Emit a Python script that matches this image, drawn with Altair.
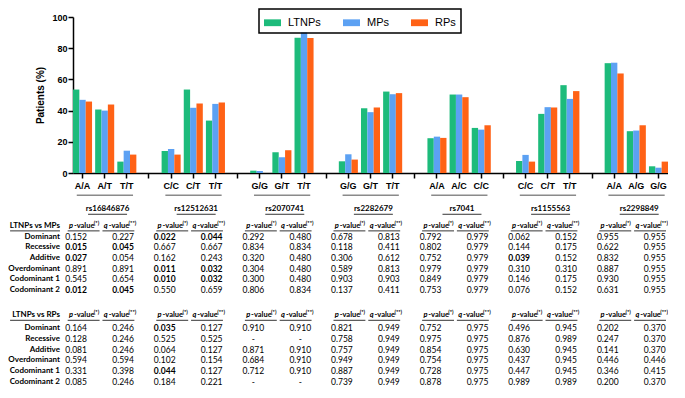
import altair as alt
import pandas as pd

# ---------------- data ----------------
SERIES = ["LTNPs", "MPs", "RPs"]
COLORS = ["#1DBB7B", "#5CA1F3", "#FF6216"]

SNPS = ["rs16846876", "rs12512631", "rs2070741", "rs2282679", "rs7041", "rs1155563", "rs2298849"]
GENOTYPES = [
    ["A/A", "A/T", "T/T"],
    ["C/C", "C/T", "T/T"],
    ["G/G", "G/T", "T/T"],
    ["G/G", "G/T", "T/T"],
    ["A/A", "A/C", "C/C"],
    ["C/C", "C/T", "T/T"],
    ["A/A", "A/G", "G/G"],
]
LTNPS = [53.5, 40.7, 7.3, 14.1, 53.5, 33.6, 1.5, 13.3, 86.7, 7.5, 41.5, 52.2,
         22.3, 50.3, 28.9, 7.7, 37.9, 56.3, 70.4, 26.8, 4.3]
MPS = [46.9, 40.0, 14.3, 15.4, 41.8, 44.3, 1.3, 10.1, 90.1, 12.0, 39.0, 50.5,
       23.3, 50.3, 27.8, 11.6, 42.2, 47.5, 70.7, 27.2, 3.4]
RPS = [45.8, 43.9, 11.8, 11.8, 44.5, 45.2, 0.0, 14.6, 86.5, 8.6, 42.0, 51.2,
       22.5, 48.6, 30.6, 7.3, 42.0, 52.5, 63.8, 30.6, 7.3]

MODELS = ["Dominant", "Recessive", "Additive", "Overdominant", "Codominant 1", "Codominant 2"]
COMPARISONS = ["LTNPs vs MPs", "LTNPs vs RPs"]

MP_P = [
    ["0.152", "0.015", "0.027", "0.891", "0.545", "0.012"],
    ["0.022", "0.667", "0.162", "0.011", "0.010", "0.550"],
    ["0.292", "0.834", "0.320", "0.304", "0.300", "0.806"],
    ["0.678", "0.118", "0.306", "0.589", "0.903", "0.137"],
    ["0.792", "0.802", "0.752", "0.979", "0.849", "0.753"],
    ["0.062", "0.144", "0.039", "0.310", "0.146", "0.076"],
    ["0.955", "0.622", "0.832", "0.887", "0.930", "0.631"],
]
MP_Q = [
    ["0.227", "0.045", "0.054", "0.891", "0.654", "0.045"],
    ["0.044", "0.667", "0.243", "0.032", "0.032", "0.659"],
    ["0.480", "0.834", "0.480", "0.480", "0.480", "0.834"],
    ["0.813", "0.411", "0.612", "0.813", "0.903", "0.411"],
    ["0.979", "0.979", "0.979", "0.979", "0.979", "0.979"],
    ["0.152", "0.175", "0.152", "0.310", "0.175", "0.152"],
    ["0.955", "0.955", "0.955", "0.955", "0.955", "0.955"],
]
RP_P = [
    ["0.164", "0.128", "0.081", "0.594", "0.331", "0.085"],
    ["0.035", "0.525", "0.064", "0.102", "0.044", "0.184"],
    ["0.910", "-", "0.871", "0.684", "0.712", "-"],
    ["0.821", "0.758", "0.757", "0.949", "0.887", "0.739"],
    ["0.752", "0.975", "0.854", "0.754", "0.728", "0.878"],
    ["0.496", "0.876", "0.630", "0.437", "0.447", "0.989"],
    ["0.202", "0.247", "0.141", "0.446", "0.346", "0.200"],
]
RP_Q = [
    ["0.246", "0.246", "0.246", "0.594", "0.398", "0.246"],
    ["0.127", "0.525", "0.127", "0.154", "0.127", "0.221"],
    ["0.910", "-", "0.910", "0.910", "0.910", "-"],
    ["0.949", "0.949", "0.949", "0.949", "0.949", "0.949"],
    ["0.975", "0.975", "0.975", "0.975", "0.975", "0.975"],
    ["0.945", "0.989", "0.945", "0.945", "0.945", "0.989"],
    ["0.370", "0.370", "0.370", "0.446", "0.415", "0.370"],
]
# (comparison, snp, model, column) of the values printed in bold
BOLD = [
    (0, 0, 1, "p"), (0, 0, 1, "q"), (0, 0, 2, "p"), (0, 0, 5, "p"), (0, 0, 5, "q"),
    (0, 1, 0, "p"), (0, 1, 0, "q"), (0, 1, 3, "p"), (0, 1, 3, "q"), (0, 1, 4, "p"), (0, 1, 4, "q"),
    (0, 5, 2, "p"),
    (1, 1, 0, "p"), (1, 1, 4, "p"),
]

# ---------------- layout constants ----------------
W = 595
H_BAR = 156
H_TAB = 196
NSLOT = 27
PAD_IN = 0.14
XMAX = NSLOT - PAD_IN
TXT_FONT = "Lato"
AX_FONT = "Liberation Sans"

# slot keys for the band scale (3 genotypes + a gap per SNP)
SLOTS = []
for g, gens in enumerate(GENOTYPES):
    SLOTS += [f"{g}_{x}" for x in gens]
    if g < len(GENOTYPES) - 1:
        SLOTS.append(f"{g}gap_")

rows = []
vals = {"LTNPs": LTNPS, "MPs": MPS, "RPs": RPS}
i = 0
for g, gens in enumerate(GENOTYPES):
    for gen in gens:
        for s in SERIES:
            rows.append({"slot": f"{g}_{gen}", "series": s, "value": vals[s][i]})
        i += 1
bars_df = pd.DataFrame(rows)

x_axis = alt.Axis(title=None, labelAngle=0, labelExpr="split(datum.value, '_')[1]",
                  labelFont=AX_FONT, labelFontWeight="bold", labelFontSize=9,
                  labelColor="black", labelPadding=3, labelOverlap=False,
                  domainColor="black", domainWidth=1.5, tickColor="black",
                  tickWidth=1.5, tickSize=5)
x_scale = alt.Scale(domain=SLOTS, paddingInner=PAD_IN, paddingOuter=0)

top = alt.Chart(bars_df).mark_bar().encode(
    x=alt.X("slot:N", scale=x_scale, sort=SLOTS, axis=x_axis),
    xOffset=alt.XOffset("series:N", scale=alt.Scale(domain=SERIES), sort=SERIES),
    y=alt.Y("value:Q", scale=alt.Scale(domain=[0, 100], nice=False),
            axis=alt.Axis(title="Patients (%)", values=[0, 20, 40, 60, 80, 100], grid=False,
                          labelFont=AX_FONT, labelFontWeight="bold", labelFontSize=9,
                          labelColor="black", labelPadding=1,
                          titleFont=AX_FONT, titleFontWeight="bold", titleFontSize=10,
                          titleColor="black", titlePadding=6,
                          domainColor="black", domainWidth=1.5, tickColor="black",
                          tickWidth=1.5, tickSize=5)),
    color=alt.Color("series:N", scale=alt.Scale(domain=SERIES, range=COLORS),
                    legend=alt.Legend(title=None, orient="none", direction="horizontal",
                                      legendX=186, legendY=-8,
                                      symbolType="M-1,-0.4H1V0.4H-1Z", symbolSize=289,
                                      symbolStrokeWidth=0, labelFont=AX_FONT,
                                      labelFontSize=11, labelColor="black", labelOffset=7,
                                      columnPadding=22, padding=5, strokeColor="black")),
).properties(width=W, height=H_BAR)

# ---------------- tables ----------------
P_X, Q_X = 0.14, 2.26
HP_A, HQ_A = 0.0, 1.57
SNP_X = 1.56
LAB_X = -0.59
ROW_TOP = -1.8
ROW_GRAY = -1.3
ROW_SNP = 0.0
ROW_HDR = [1.55, 9.9]
ROW_FIRST = [2.55, 11.1]

cells = []
tables = [(MP_P, MP_Q), (RP_P, RP_Q)]
for t, (P, Q) in enumerate(tables):
    for g in range(len(SNPS)):
        for m in range(len(MODELS)):
            for kind, src, off in (("p", P, P_X), ("q", Q, Q_X)):
                cells.append({"x": 4 * g + off, "y": ROW_FIRST[t] + m, "text": src[g][m],
                              "bold": (t, g, m, kind) in BOLD})
cells_df = pd.DataFrame(cells)

letters, words, sups, lines = [], [], [], []
for t in range(2):
    for g in range(len(SNPS)):
        for a, letter, sup in ((HP_A, "p", "(*)"), (HQ_A, "q", "(**)")):
            letters.append({"x": 4 * g + a, "y": ROW_HDR[t], "text": letter})
            words.append({"x": 4 * g + a + 0.04, "y": ROW_HDR[t], "text": "-value"})
            sups.append({"x": 4 * g + a + 0.94, "y": ROW_HDR[t], "text": sup})
            lines.append({"x": 4 * g + a - 0.24, "x2": 4 * g + a + 1.2, "y": ROW_HDR[t]})
    lines.append({"x": LAB_X - 2.25, "x2": LAB_X, "y": ROW_HDR[t]})
for g in range(len(SNPS)):
    lines.append({"x": 4 * g + SNP_X - 0.88, "x2": 4 * g + SNP_X + 0.88, "y": ROW_SNP})

gray_df = pd.DataFrame([{"x": 4 * g + 0.17, "x2": 4 * g + 2.71, "y": ROW_GRAY} for g in range(len(SNPS))])

labels = []
for t in range(2):
    labels.append({"x": LAB_X, "y": ROW_HDR[t], "text": COMPARISONS[t]})
    for m, name in enumerate(MODELS):
        labels.append({"x": LAB_X, "y": ROW_FIRST[t] + m, "text": name})
snp_df = pd.DataFrame([{"x": 4 * g + SNP_X, "y": ROW_SNP, "text": s} for g, s in enumerate(SNPS)])

XS = alt.Scale(domain=[0, XMAX], nice=False, zero=False)
YS = alt.Scale(domain=[ROW_TOP, 16.5], nice=False, zero=False, reverse=True)


def enc(ch):
    return ch.encode(x=alt.X("x:Q", scale=XS, axis=None), y=alt.Y("y:Q", scale=YS, axis=None),
                     text="text:N")


base_txt = dict(font=TXT_FONT, fontSize=8.5, color="black", baseline="middle")
hdr_txt = dict(font=TXT_FONT, fontSize=7.5, color="black", baseline="middle")
t_norm = enc(alt.Chart(cells_df).transform_filter("!datum.bold").mark_text(align="center", **base_txt))
t_bold = enc(alt.Chart(cells_df).transform_filter("datum.bold").mark_text(align="center", fontWeight="bold", **base_txt))
t_let = enc(alt.Chart(pd.DataFrame(letters)).mark_text(align="right", fontWeight="bold", fontStyle="italic", **hdr_txt))
t_word = enc(alt.Chart(pd.DataFrame(words)).mark_text(align="left", fontWeight="bold", **hdr_txt))
t_sup = enc(alt.Chart(pd.DataFrame(sups)).mark_text(align="left", fontWeight="bold", font=TXT_FONT,
                                                    fontSize=5.5, color="black", baseline="middle", dy=-3))
t_lab = enc(alt.Chart(pd.DataFrame(labels)).mark_text(align="right", fontWeight="bold", font=TXT_FONT,
                                                      fontSize=8, color="black", baseline="middle"))
t_snp = enc(alt.Chart(snp_df).mark_text(align="center", fontWeight="bold", font=TXT_FONT,
                                        fontSize=8, color="black", baseline="middle"))
t_lines = alt.Chart(pd.DataFrame(lines)).mark_rule(color="black", strokeWidth=0.8, yOffset=5).encode(
    x=alt.X("x:Q", scale=XS, axis=None), x2="x2:Q", y=alt.Y("y:Q", scale=YS, axis=None))
t_gray = alt.Chart(gray_df).mark_rule(color="#8a8a8a", strokeWidth=1.5).encode(
    x=alt.X("x:Q", scale=XS, axis=None), x2="x2:Q", y=alt.Y("y:Q", scale=YS, axis=None))

bottom = alt.layer(t_gray, t_lines, t_norm, t_bold, t_let, t_word, t_sup, t_lab, t_snp).properties(
    width=W, height=H_TAB)

chart = alt.vconcat(top, bottom, spacing=0).properties(padding=0).configure_view(
    stroke=None).configure_legend(strokeWidth=1.5)

chart.save("out.html", embed_options={"renderer": "svg", "actions": False})
